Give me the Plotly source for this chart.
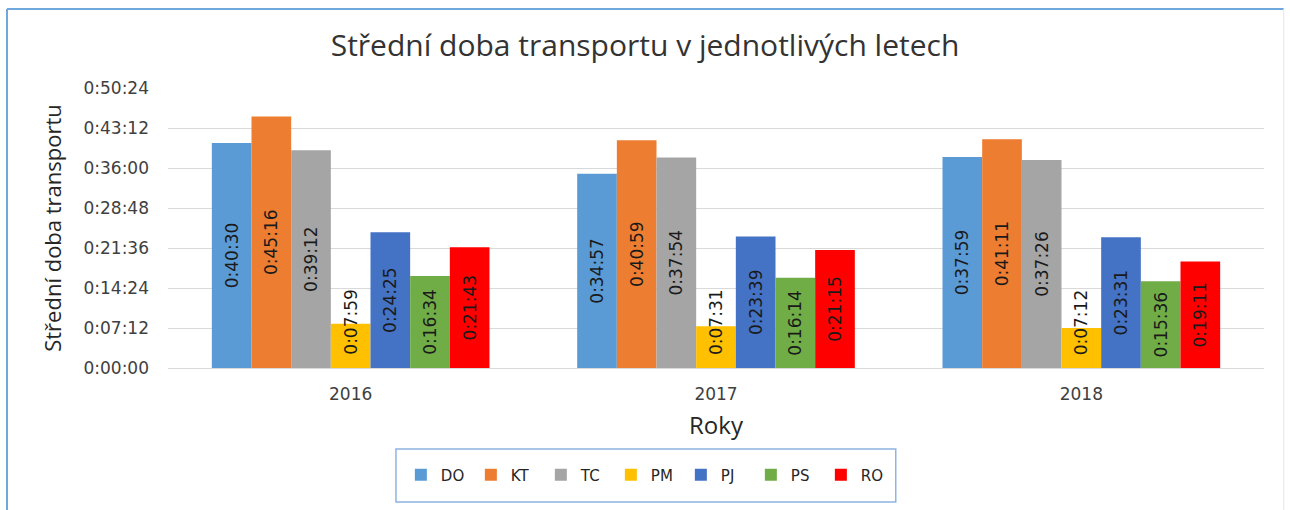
import plotly.graph_objects as go

# Mean transport time per year and station (h:mm:ss)
years = ["2016", "2017", "2018"]
series_names = ["DO", "KT", "TC", "PM", "PJ", "PS", "RO"]
DO = ["0:40:30", "0:34:57", "0:37:59"]
KT = ["0:45:16", "0:40:59", "0:41:11"]
TC = ["0:39:12", "0:37:54", "0:37:26"]
PM = ["0:07:59", "0:07:31", "0:07:12"]
PJ = ["0:24:25", "0:23:39", "0:23:31"]
PS = ["0:16:34", "0:16:14", "0:15:36"]
RO = ["0:21:43", "0:21:15", "0:19:11"]
series_values = [DO, KT, TC, PM, PJ, PS, RO]
colors = ["#5B9BD5", "#ED7D31", "#A5A5A5", "#FFC000", "#4472C4", "#70AD47", "#FF0000"]

# axis ticks every 7:12
tick_seconds = [0, 432, 864, 1296, 1728, 2160, 2592, 3024]


def to_seconds(s):
    h, m, sec = (int(p) for p in s.split(":"))
    return h * 3600 + m * 60 + sec


def to_hms(v):
    return f"{v // 3600}:{(v % 3600) // 60:02d}:{v % 60:02d}"


NUM_FONT = "DejaVu Sans"
TXT_FONT = "Open Sans"
LABEL_FONT = dict(family=NUM_FONT, size=17, color="#1A1A1A")

fig = go.Figure()
for name, vals, col in zip(series_names, series_values, colors):
    secs = [to_seconds(v) for v in vals]
    short = name == "PM"
    fig.add_trace(go.Bar(
        name=name, x=years, y=secs,
        marker=dict(color=col, line=dict(width=0)),
        text=None if short else vals,
        textposition="none" if short else "inside",
        insidetextanchor="middle",
        textangle=-90,
        constraintext="none",
        textfont=LABEL_FONT,
        hoverinfo="skip",
    ))
    if short:
        # short bars: label sits just above the base, overflowing the bar
        for i, v in enumerate(vals):
            fig.add_annotation(
                x=i, y=0, xref="x", yref="y", text=v, showarrow=False,
                textangle=-90, yanchor="bottom", yshift=11,
                font=LABEL_FONT,
            )

# chart frame and legend box
fig.add_shape(type="line", xref="paper", yref="paper", x0=-0.1469, x1=-0.1469,
              y0=1.282, y1=-0.56, line=dict(color="#6FA8DC", width=2))
fig.add_shape(type="line", xref="paper", yref="paper", x0=-0.1469, x1=1.018,
              y0=1.282, y1=1.282, line=dict(color="#6FA8DC", width=2))
fig.add_shape(type="line", xref="paper", yref="paper", x0=1.018, x1=1.018,
              y0=1.282, y1=-0.56, line=dict(color="#DDE8F3", width=1))
fig.add_shape(type="rect", xref="paper", yref="paper", x0=0.208, x1=0.664,
              y0=-0.479, y1=-0.289, line=dict(color="#8DB4E2", width=1.5),
              fillcolor="rgba(0,0,0,0)")

fig.update_layout(
    width=1290, height=510,
    margin=dict(l=168, r=26, t=88, b=142),
    paper_bgcolor="white", plot_bgcolor="white",
    barmode="group", bargap=0.24, bargroupgap=0,
    title=dict(text="Střední doba transportu v jednotlivých letech",
               x=0.5, xanchor="center", xref="container",
               y=1 - 45 / 510, yanchor="middle", yref="container",
               font=dict(family=TXT_FONT, size=30, color="#333333")),
    xaxis=dict(
        type="category", categoryorder="array", categoryarray=years,
        range=[-0.5, 2.5], showgrid=False, showline=False, zeroline=False,
        ticks="", ticklabelstandoff=14,
        tickfont=dict(family=NUM_FONT, size=17, color="#404040"),
        title=dict(text="Roky", standoff=14,
                   font=dict(family=TXT_FONT, size=24, color="#262626")),
    ),
    yaxis=dict(
        range=[0, 3024], tickvals=tick_seconds,
        ticktext=[to_hms(v) for v in tick_seconds],
        showgrid=True, gridcolor="#D9D9D9", gridwidth=1,
        zeroline=True, zerolinecolor="#D9D9D9", zerolinewidth=1,
        showline=False, ticks="", ticklabelstandoff=18,
        tickfont=dict(family=NUM_FONT, size=17, color="#404040"),
        title=dict(text="Střední doba transportu", standoff=15,
                   font=dict(family=TXT_FONT, size=22, color="#262626")),
    ),
    legend=dict(
        orientation="h", x=0.436, xanchor="center", y=-0.382, yanchor="middle",
        font=dict(family=NUM_FONT, size=15, color="#262626"),
        itemwidth=30, entrywidth=25, borderwidth=0, bgcolor="rgba(0,0,0,0)",
        itemclick=False, itemdoubleclick=False,
    ),
    showlegend=True,
)

fig.write_html("out.html", config={"displayModeBar": False, "staticPlot": True})
